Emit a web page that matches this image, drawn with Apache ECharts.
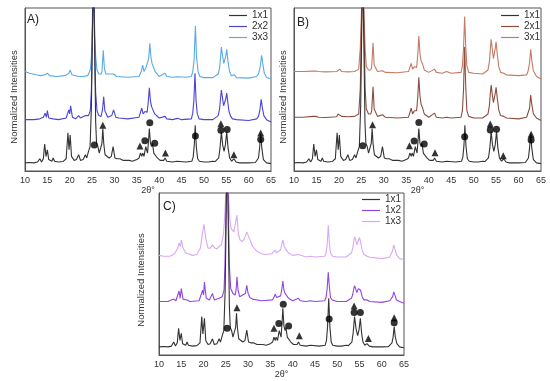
<!DOCTYPE html>
<html><head><meta charset="utf-8">
<script src="https://cdn.jsdelivr.net/npm/echarts@6/dist/echarts.min.js"></script>
<style>html,body{margin:0;padding:0;background:#fff}#c{width:550px;height:381px}</style>
</head><body><div id="c"></div>
<script>
// ---- data (2θ, normalized intensity incl. stacking offset) ----
const xTicks = [10,15,20,25,30,35,40,45,50,55,60,65];
const namesA = ['1x1','2x2','3x3'];
const namesB = ['1x1','2x1','3x1'];
const namesC = ['1x1','1x2','1x3'];

const ref1x1 = [[10,5],[11,5.2],[12,5],[12.8,5.5],[13.3,7.5],[13.7,5.5],[14.1,7.5],[14.4,16.5],[14.7,9],[15.0,13],[15.3,7],[16,6],[16.3,8],[16.6,6],[17.5,5.5],[18.5,5.8],[19.2,7.5],[19.6,23.5],[19.85,13],[20.1,22],[20.4,9],[21,6.5],[21.5,7],[22,10],[22.4,6.5],[23,7],[23.5,10],[23.8,8],[24.2,12],[24.55,15],[24.85,40],[25.05,80],[25.3,130],[25.55,80],[25.8,30],[26.0,17],[26.3,15],[26.6,11],[27.0,11.5],[27.2,17],[27.4,26],[27.6,17],[27.9,10],[28.3,9],[28.8,8],[29.3,9],[29.7,15],[30.1,8],[30.6,7.5],[31.2,7.5],[32,6.5],[33.3,6.5],[34,6],[35,7],[35.5,8],[35.8,11],[36.1,9],[36.3,11],[36.6,9],[37.0,15],[37.4,11],[37.6,18],[37.8,26],[38.05,17],[38.3,15],[38.5,17],[38.8,11],[39.2,10],[39.6,8],[40.2,6.5],[41,6.5],[41.3,8],[41.7,6],[43,5.5],[44,6],[44.4,5.5],[46,5.5],[47.3,6],[47.6,8.5],[47.85,16],[48.05,28],[48.3,15],[48.6,7.5],[49,6],[50,5.5],[51,5.5],[52,6],[52.5,5.8],[53.3,8],[53.6,14],[53.9,24],[54.2,16],[54.5,12],[54.8,16],[55.1,24],[55.4,14],[55.75,8],[56.2,6],[56.7,7.5],[57.2,5.5],[58,5],[60,5],[61.5,5.2],[62.2,8],[62.45,14],[62.7,23],[62.95,14],[63.3,7],[64,5],[65,4.5]];

const a2x2 = [[10,31.5],[12,31.5],[13.3,32],[14.1,33],[14.5,35.5],[14.8,33],[15.0,37],[15.3,32.5],[16.3,32],[17.5,31.5],[19.2,32.5],[19.8,37.5],[20.0,35],[20.2,40],[20.6,33],[21.3,32],[22,34],[22.4,32.5],[23.5,34],[24.2,34],[24.6,37],[24.85,50],[25.05,80],[25.3,130],[25.55,80],[25.8,48],[26.1,37],[26.5,34],[27.0,33.5],[27.3,37],[27.6,45.6],[27.85,37],[28.5,33],[29.4,34],[29.8,37.5],[30.3,33],[31,32.5],[33,32],[35.5,33],[36.1,38.5],[36.4,35],[36.8,36.5],[37.3,36],[37.55,42],[37.8,51],[38.05,43],[38.3,39.5],[38.6,38.5],[39,35],[40,32.5],[41.3,33.5],[41.7,32],[43,31.5],[44.1,32.3],[45,31.5],[47.2,32],[47.5,35.5],[47.75,43],[48.0,60],[48.25,43],[48.5,35.5],[48.9,32],[50,31.5],[52,31.5],[53.2,34],[53.5,38],[53.7,44],[53.9,49.7],[54.15,45],[54.4,40],[54.6,39.5],[54.85,44],[55.1,47.8],[55.35,42],[55.6,36.5],[56,33.5],[56.4,32],[56.8,33],[57.3,31.5],[60,31],[61.8,32],[62.2,33.5],[62.5,37],[62.8,44],[63.05,39],[63.4,34],[64,31.5],[65,30]];

const a3x3 = [[10,61],[11,60],[12.5,59],[13.5,58.5],[14.5,59],[15,60],[15.5,58.5],[17,58],[19,58.5],[19.8,60],[20.1,62],[20.5,59],[22,58],[23,58],[24,58.5],[24.6,62],[24.85,70],[25.05,90],[25.3,130],[25.55,90],[25.8,70],[26.1,62],[26.5,59.5],[27.0,59.5],[27.2,61],[27.5,74],[27.75,63],[28.1,59.5],[28.5,58.5],[29.8,59.5],[30.5,58],[33,57.5],[35.5,58],[36.0,61],[36.3,65],[36.6,61],[37.0,63],[37.4,63],[37.65,69],[37.9,78.4],[38.15,70],[38.4,66],[38.7,65],[39.1,61],[40,58],[41.3,60],[41.7,58],[43,57.5],[44,57.8],[46,57.5],[47.2,58],[47.5,61],[47.8,68],[48.1,89],[48.35,70],[48.7,61],[49.1,58],[50,57.3],[52,57.3],[53.2,59.5],[53.5,63],[53.7,69],[53.9,76],[54.15,71],[54.45,66],[54.6,66],[54.85,70],[55.1,74.6],[55.35,68],[55.7,61.5],[56.1,58.5],[56.5,58],[56.8,59],[57.3,57.3],[60,57],[61.8,58],[62.2,59.5],[62.6,64],[62.9,71],[63.15,66],[63.5,60],[64,57.5],[65,56.5]];

const b2x1 = [[10,33],[12,33],[14.2,33.5],[14.5,34.5],[14.8,33.5],[15.1,34],[15.5,33],[17,32.8],[19.5,33.3],[19.8,35],[20.2,35.5],[20.6,33.5],[22,33.3],[23.5,33.5],[24.4,35],[24.75,50],[25.0,85],[25.3,130],[25.6,85],[25.85,50],[26.1,38],[26.6,35],[27.1,35],[27.3,37],[27.6,51.7],[27.85,38],[28.6,33.5],[29.7,34.5],[30.3,33],[33,32.5],[35.5,33],[36.1,38.5],[36.4,35],[36.8,37],[37.3,37],[37.55,45],[37.8,57.5],[38.05,46],[38.3,41],[38.6,39],[39,35],[40,33],[41.3,35.5],[41.7,33],[43,32.5],[44,33],[45,32.5],[47.2,33],[47.5,37],[47.75,50],[48.0,76],[48.25,51],[48.5,37],[48.9,33.5],[50,32.5],[52,32.5],[53.2,35],[53.5,40],[53.7,47],[53.9,52.8],[54.15,47],[54.4,42],[54.55,42.5],[54.8,47.5],[55.0,51.4],[55.25,45],[55.6,37.5],[56,34],[56.4,33],[56.7,33.5],[57.3,32.5],[60,32],[61.8,33],[62.1,34],[62.45,38.5],[62.7,46.6],[62.95,41],[63.3,35],[64,32.5],[65,31]];

const b3x1 = [[10,61],[12,61],[14.2,61.3],[14.5,62],[14.8,61.3],[15.1,62],[15.5,61],[17,60.8],[19.5,61],[19.8,62],[20.2,62.5],[20.6,61],[22,60.8],[23.5,61],[24.4,62.5],[24.75,75],[25.0,95],[25.3,130],[25.6,95],[25.85,75],[26.1,64],[26.6,62],[27.1,62],[27.3,64],[27.6,78.7],[27.85,65],[28.6,61],[29.7,61.5],[30.3,60.5],[33,60.3],[35.5,61],[36.1,66],[36.4,62.5],[36.8,64],[37.3,63.5],[37.55,71],[37.8,82.8],[38.05,72],[38.3,67.5],[38.6,66],[39,62],[40,60.5],[41.3,62.5],[41.7,60.5],[43,60],[44,61],[45,60],[47.2,60.5],[47.5,64.5],[47.75,75],[48.0,94.7],[48.25,76],[48.5,64.5],[48.9,60.5],[50,60],[52,59.5],[53.2,62],[53.5,67],[53.7,74],[53.9,80.8],[54.15,75],[54.4,69],[54.55,69.5],[54.8,75],[55.0,79.3],[55.25,72],[55.6,64],[56,60.5],[56.4,59.5],[56.7,60],[57.3,59],[60,58.5],[61.8,59],[62.1,61],[62.45,66],[62.7,74.7],[62.95,68],[63.3,61.5],[64,58],[65,56.5]];

const c1x1 = [[10,5],[11,5.2],[12,5],[12.8,5.5],[13.3,8],[13.7,5.5],[14.1,7.5],[14.4,16.5],[14.7,9],[15.0,13.4],[15.3,7],[16,6],[16.3,8],[16.6,6],[17.5,5.5],[18.5,5.8],[19.2,7.5],[19.6,23.7],[19.85,13],[20.2,22.6],[20.5,9],[21,6.5],[21.5,7],[22,10],[22.4,6.5],[23,7],[23.5,10],[23.8,8],[24.2,12],[24.55,15],[24.85,40],[25.05,80],[25.3,130],[25.55,80],[25.8,30],[26.0,17],[26.3,15],[26.6,11],[27.0,11.5],[27.2,17],[27.4,25.7],[27.6,17],[27.9,10],[28.3,9],[28.8,8],[29.3,9],[29.7,15.4],[30.1,8],[30.6,7.5],[31.2,7.5],[32,6.5],[33.3,6.5],[34,6],[35,7],[35.5,8],[35.8,11],[36.1,9],[36.3,11],[36.6,9],[37.0,15],[37.4,11],[37.6,19],[37.8,28.8],[38.05,18],[38.3,15],[38.5,17],[38.8,11],[39.2,10],[39.6,8],[40.2,6.5],[41,6.5],[41.3,8],[41.7,6],[43,5.5],[44,6],[44.4,5.5],[46,5.5],[47.3,6],[47.6,9],[47.85,18],[48.1,35],[48.35,18],[48.65,8],[49,6],[50,5.5],[51,5.5],[52,6],[52.5,5.8],[53.3,8],[53.6,14],[53.9,23.7],[54.25,16],[54.6,12],[54.9,15.5],[55.2,22.6],[55.5,13],[55.8,8],[56.2,6],[56.7,7],[57.2,5.5],[58,5],[60,5],[61.5,5.2],[62.3,7.5],[62.55,11],[62.8,17.5],[63.05,11],[63.4,7],[64,5],[65,4.5]];

const c1x2 = [[10,33],[12,33],[13.3,34.5],[13.8,33.5],[14.5,39.5],[14.75,35],[15.0,41],[15.4,34.5],[16.3,34],[17,33],[19,33.5],[19.8,40],[20.0,37],[20.2,45],[20.6,35],[21.3,34],[22,38],[22.4,34],[23.5,35],[24.2,36],[24.6,40],[24.8,55],[25.0,85],[25.3,130],[25.6,85],[25.8,55],[26.1,41],[26.6,38],[27.1,37],[27.3,40],[27.5,48.3],[27.75,40],[28.1,36],[28.5,35],[29.4,38],[29.7,43],[30.0,38],[30.4,35.5],[31,34.5],[33,33.5],[35.5,34],[36.1,37.5],[36.4,35.5],[36.8,36],[37.3,36.5],[37.55,40],[37.8,45.7],[38.05,40],[38.3,38],[38.6,37.5],[39.1,35],[40,33.5],[41.3,35],[41.7,33.5],[43,33],[44,33.5],[45,33],[47.2,33.5],[47.5,35.5],[47.75,41],[48.0,51],[48.25,42],[48.5,35.5],[48.9,34],[50,33],[52,33],[53.2,35],[53.5,37.5],[53.7,40.5],[53.9,42.8],[54.15,41],[54.4,38.5],[54.55,39],[54.8,41],[55.0,42],[55.25,40],[55.6,36],[56,34],[56.4,33.5],[56.7,34],[57.3,33],[60,32.5],[61.8,33.5],[62.1,34],[62.45,36],[62.7,39],[62.95,37],[63.3,34],[64,33],[65,32]];

const c1x3 = [[10,61.5],[11,61],[12.5,61],[13.5,62.5],[14.2,66],[14.5,69],[14.8,67],[15.0,71],[15.4,66],[16,63],[16.5,62.5],[17.5,61.5],[18.5,62],[19.3,66],[19.7,74],[20.1,80.7],[20.5,72],[21,66],[21.5,66],[22,68],[22.5,66],[23,65.5],[23.5,67],[24,68],[24.5,75],[24.8,88],[25.0,100],[25.3,130],[25.6,100],[25.9,84],[26.2,78],[26.8,76],[27.2,75],[27.5,86.4],[27.8,75],[28.2,71],[28.7,70],[29.2,72],[29.7,76],[30.3,72],[31,67],[32,64],[33,62.5],[34,62],[35.3,62.5],[36.1,64.8],[36.4,63],[36.8,64],[37.3,65],[37.55,68],[37.8,71],[38.1,67],[38.4,65.5],[38.7,65],[39.1,63],[40,61.5],[41.3,62],[41.7,61],[43,60.5],[44,61],[45,60.5],[47.2,61],[47.5,63],[47.75,68],[48.0,80],[48.25,69],[48.5,63],[49,61],[50,60.5],[52,60.5],[53.2,63],[53.5,66],[53.7,70],[53.9,73],[54.15,71],[54.4,68],[54.55,68.5],[54.8,71],[55.0,72.5],[55.3,69],[55.6,65],[56,62],[56.4,61],[56.7,61],[57.3,60.3],[60,59.5],[61.8,60.5],[62.1,61.5],[62.4,64],[62.7,68],[62.95,65.5],[63.3,62],[64,59.5],[65,59]];

// phase markers (● and ▲)
const circA = [[25.5,16],[36.8,18.6],[37.9,29.6],[39.0,17],[48.1,21.5],[53.8,25],[55.2,25.5],[62.7,19.4]];
const triA  = [[27.4,28],[35.7,15.3],[41.4,11],[53.8,29],[56.7,10],[62.7,23.3]];
const circB = [[25.3,15.5],[36.75,18.4],[37.8,29.8],[39.0,16.5],[48.0,21],[53.7,25.2],[55.1,25.6],[62.8,19]];
const triB  = [[27.5,28.3],[35.7,15.5],[41.4,11.2],[53.7,28.8],[56.6,9.4],[62.8,22.5]];
const circC = [[25.3,16.5],[36.9,19.5],[37.9,31.3],[39.1,17.9],[48.2,22.2],[53.8,26.3],[55.2,26.3],[62.8,19.9]];
const triC  = [[27.5,29.2],[35.8,16.5],[41.5,11.9],[53.8,30.2],[57.0,10.2],[62.8,23]];

// ---- chart ----
const FONT = 'Liberation Sans, Arial, sans-serif';
const TXT = '#333';
const grids = [
  {left:25, top:8, width:246, height:163},
  {left:294, top:8, width:247, height:163},
  {left:159, top:193, width:245, height:162}
];
const panels = [
  {names:namesA, data:[ref1x1,a2x2,a3x3], colors:['#333333','#4a45d6','#5aaae6'], circ:circA, tri:triA, label:'A)'},
  {names:namesB, data:[ref1x1,b2x1,b3x1], colors:['#333333','#8c4e3e','#c57a63'], circ:circB, tri:triB, label:'B)'},
  {names:namesC, data:[c1x1,c1x2,c1x3], colors:['#333333','#9146e0','#d9a9f2'], circ:circC, tri:triC, label:'C)'}
];
const xAxis = [], yAxis = [], series = [], legend = [], graphic = [];
const legendPos = [{left:229, top:10},{left:501, top:10},{left:362, top:194}];
const labelPos = [[27,14],[297,17],[163,201]];
const yLabelPos = [[14,97],[283,97],[141,280]];
panels.forEach((p, i) => {
  xAxis.push({gridIndex:i, type:'value', min:10, max:65, interval:5,
    name:'2θ°', nameLocation:'middle', nameGap:15,
    nameTextStyle:{fontSize:9, color:TXT, fontFamily:FONT},
    axisLine:{lineStyle:{color:'#555', width:1}}, axisTick:{show:false},
    axisLabel:{fontSize:9, color:TXT, fontFamily:FONT, margin:5,
      formatter: v => xTicks.includes(v) ? String(v) : ''},
    splitLine:{show:false}});
  yAxis.push({gridIndex:i, type:'value', min:0, max:100,
    axisLine:{show:true, lineStyle:{color:'#555', width:1}}, axisTick:{show:false},
    axisLabel:{show:false}, splitLine:{show:false}});
  p.data.forEach((d, k) => {
    series.push({type:'line', name:p.names[k], xAxisIndex:i, yAxisIndex:i, data:d,
      showSymbol:false, symbol:'none', clip:true, silent:true, animation:false,
      lineStyle:{color:p.colors[k], width:1.1}, itemStyle:{color:p.colors[k]}, z:3-k});
  });
  series.push({type:'scatter', name:'circ'+i, xAxisIndex:i, yAxisIndex:i, data:p.circ,
    symbol:'circle', symbolSize:7, itemStyle:{color:'#000'}, animation:false, z:5});
  series.push({type:'scatter', name:'tri'+i, xAxisIndex:i, yAxisIndex:i, data:p.tri,
    symbol:'triangle', symbolSize:7, itemStyle:{color:'#000'}, animation:false, z:5});
  legend.push({orient:'vertical', left:legendPos[i].left, top:legendPos[i].top,
    data:p.names, icon:'rect', itemWidth:18, itemHeight:1.2, itemGap:0,
    selectedMode:false, padding:0,
    textStyle:{fontSize:10, color:TXT, fontFamily:FONT, lineHeight:11}});
  graphic.push({type:'text', left:labelPos[i][0], top:labelPos[i][1],
    style:{text:p.label, fontSize:12, fill:'#222', fontFamily:FONT}});
  graphic.push({type:'text', x:yLabelPos[i][0], y:yLabelPos[i][1], rotation:Math.PI/2,
    style:{text:'Normalized Intensities', fontSize:9.5, fill:TXT, fontFamily:FONT,
      textAlign:'center', textVerticalAlign:'middle'}});
});
const chart = echarts.init(document.getElementById('c'), null, {renderer:'canvas'});
chart.setOption({
  animation:false,
  grid: grids.map(g => Object.assign({show:true, borderColor:'#555', borderWidth:1, backgroundColor:'transparent'}, g)),
  xAxis, yAxis, series, legend, graphic
});
</script></body></html>
